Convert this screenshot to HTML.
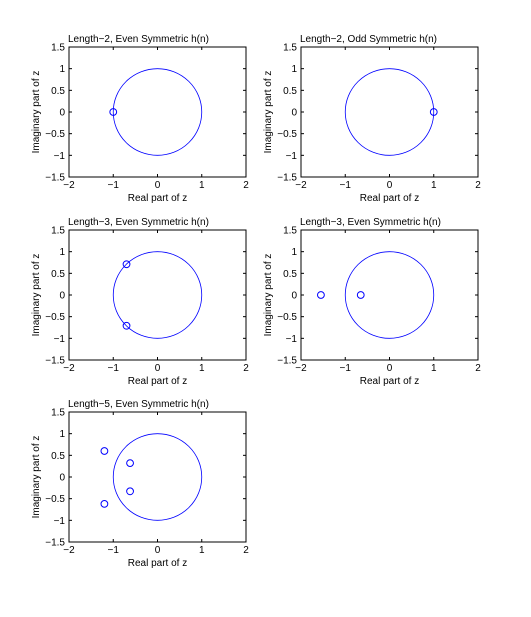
<!DOCTYPE html>
<html><head><meta charset="utf-8"><style>
body{margin:0;background:#fff;}
svg{font-family:"Liberation Sans",Arial,sans-serif;font-size:10px;}
</style></head><body>
<svg id="fig" width="531" height="612" xmlns="http://www.w3.org/2000/svg"></svg>
<script>
const panelTitles=["Length\u22122, Even Symmetric h(n)","Length\u22122, Odd Symmetric h(n)","Length\u22123, Even Symmetric h(n)","Length\u22123, Even Symmetric h(n)","Length\u22125, Even Symmetric h(n)"];
const zerosRe=[[-1],[1],[-0.7,-0.7],[-1.55,-0.65],[-1.2,-0.62,-0.62,-1.2]];
const zerosIm=[[0],[0],[0.71,-0.71],[0,0],[0.6,0.32,-0.33,-0.62]];
const xTicks=[-2,-1,0,1,2];
const yTicks=[1.5,1,0.5,0,-0.5,-1,-1.5];
const NS="http://www.w3.org/2000/svg";
const svg=document.getElementById('fig');
const lefts=[69,301],tops=[47,230,412],W=177,H=130;
function mk(tag,attrs,parent){const e=document.createElementNS(NS,tag);for(const k in attrs)e.setAttribute(k,attrs[k]);(parent||svg).appendChild(e);return e;}
function fmt(v){return (v<0?"\u2212":"")+Math.abs(v);}
panelTitles.forEach((t,i)=>{
  const L=lefts[i%2],T=tops[Math.floor(i/2)];
  const sx=v=>L+(v+2)/4*W, sy=v=>T+(1.5-v)/3*H;
  const g=mk('g',{});
  
  
  const box=mk('rect',{x:L,y:T,width:W,height:H,fill:'#fff',stroke:'#000','stroke-width':1},g);
  
  
  xTicks.forEach(v=>{
    mk('line',{x1:sx(v),x2:sx(v),y1:T+H,y2:T+H-3,stroke:'#000'},g);
    mk('line',{x1:sx(v),x2:sx(v),y1:T,y2:T+3,stroke:'#000'},g);
    const tx=mk('text',{x:sx(v),y:T+H+11,'text-anchor':'middle'},g);tx.textContent=fmt(v);
    
    
  });
  yTicks.forEach(v=>{
    mk('line',{x1:L,x2:L+3,y1:sy(v),y2:sy(v),stroke:'#000'},g);
    mk('line',{x1:L+W,x2:L+W-3,y1:sy(v),y2:sy(v),stroke:'#000'},g);
    const ty=mk('text',{x:L-4,y:sy(v)+3.5,'text-anchor':'end'},g);ty.textContent=fmt(v);
    
    
  });
  const c=mk('ellipse',{cx:sx(0),cy:sy(0),rx:sx(1)-sx(0),ry:sy(0)-sy(1),fill:'none',stroke:'#0000ff','stroke-width':0.8},g);
  
  
  zerosRe[i].forEach((re,j)=>{
    const m=mk('circle',{cx:sx(re),cy:sy(zerosIm[i][j]),r:3.4,fill:'none',stroke:'#0000ff','stroke-width':1},g);
    
    
  });
  const ti=mk('text',{x:L-1,y:T-5},g);ti.textContent=t;
  
  
  const xl=mk('text',{x:L+W/2,y:T+H+24,'text-anchor':'middle'},g);xl.textContent='Real part of z';
  
  
  const yl=mk('text',{x:0,y:0,'text-anchor':'middle',transform:`translate(${L-30},${T+H/2}) rotate(-90)`},g);yl.textContent='Imaginary part of z';
  
  
});
</script>
</body></html>
